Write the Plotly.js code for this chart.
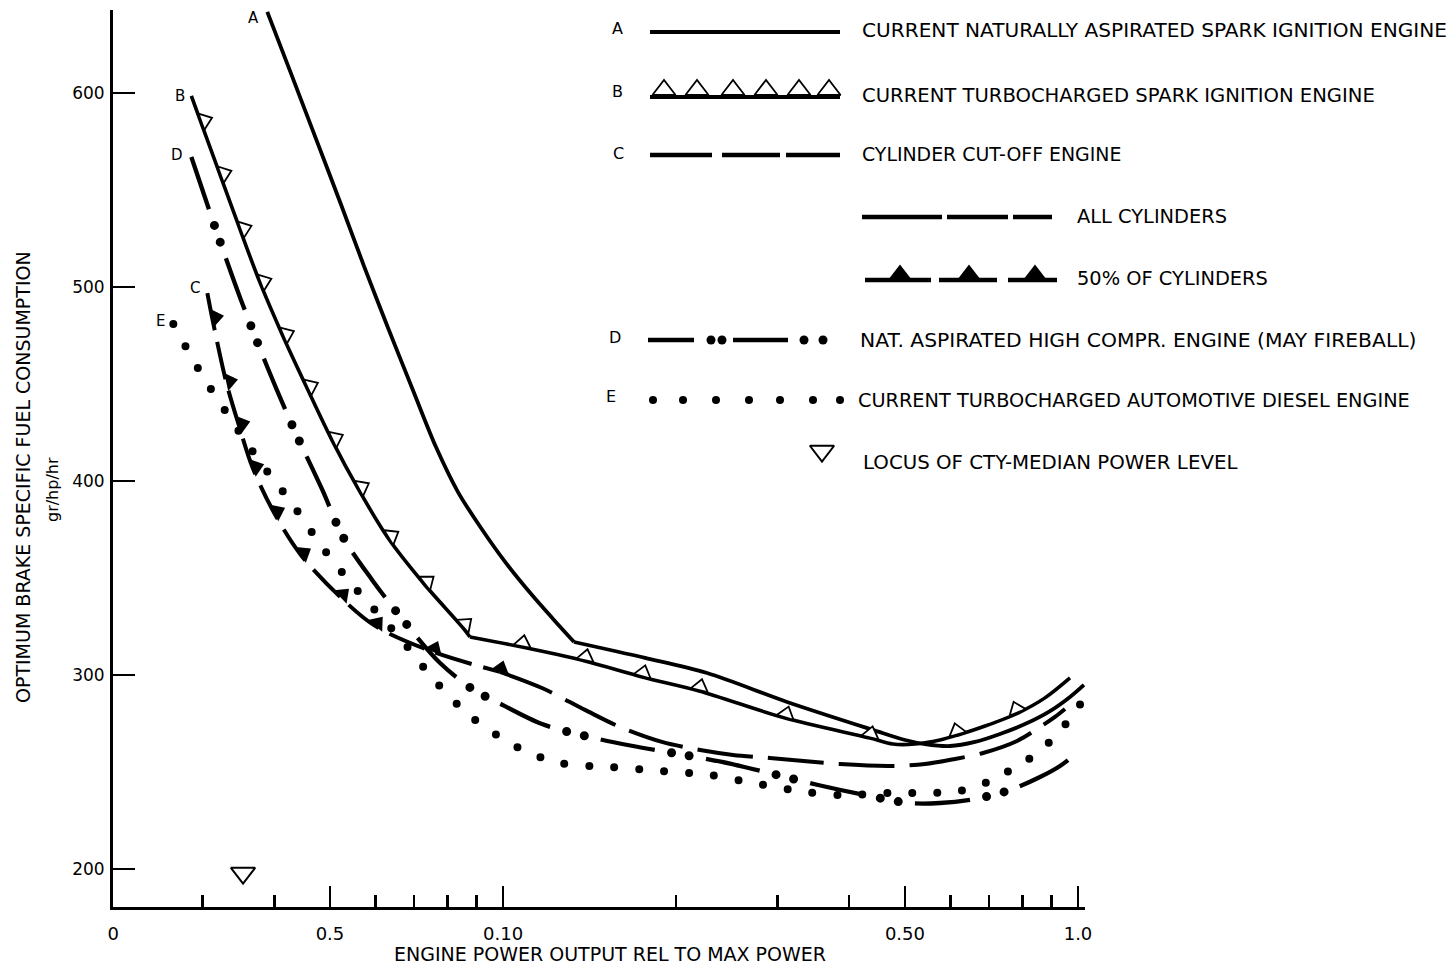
<!DOCTYPE html>
<html><head><meta charset="utf-8">
<script src="https://cdn.plot.ly/plotly-3.0.1.min.js"></script>
<style>html,body{margin:0;padding:0;background:#fff;}#chart{width:1452px;height:969px;}</style>
</head><body><div id="chart"></div>
<script>
// ---- data (x = engine power rel. to max, y = gr/hp/hr) ----
// A: current naturally aspirated spark ignition engine
const aX = [0.0389,0.0430,0.0475,0.0523,0.0573,0.0631,0.0698,0.07645,0.0835,0.09156,0.10121,0.11231,0.12218,0.1329,0.1766,0.2264,0.3119,0.4398,0.5002,0.5418,0.5989,0.6622,0.7318,0.8087,0.8939,0.9685,1.024];
const aY = [641.8,608.3,574.8,542.3,510.8,478.9,446.4,417.5,394.3,375.8,357.7,341.2,328.9,317.0,308.8,301.0,286.1,271.7,266.5,264.4,263.4,265.5,269.6,274.7,281.4,288.7,294.9];
const aKink = 13;   // index of the break in slope
// B: current turbocharged spark ignition engine (bTri = point carries a triangle)
const bX = [0.0287,0.0298,0.0322,0.0349,0.0378,0.0414,0.0456,0.0504,0.0560,0.0631,0.0729,0.0849,0.0876,0.1079,0.1388,0.1745,0.2193,0.3094,0.4345,0.4765,0.5205,0.5754,0.6184,0.6893,0.7865,0.8761,0.9685];
const bY = [598.5,585.1,557.8,529.4,502.1,474.8,448.0,421.1,395.9,370.6,346.9,324.8,319.6,314.4,307.2,299.0,291.8,277.8,267.5,264.4,264.4,266.5,269.1,273.7,280.4,288.2,298.5];
const bTri = [0,1,1,1,1,1,1,1,1,1,1,1,0,1,1,1,1,1,1,0,0,0,1,0,1,0,0];
const bKink = 12;
// C: cylinder cut-off engine, 50% of cylinders part
const c50X = [0.0306,0.0312,0.0330,0.0347,0.0367,0.0400,0.0445,0.0521,0.0599,0.0756,0.0988];
const c50Y = [496.9,484.0,451.0,428.9,406.7,383.5,361.9,340.2,325.3,311.9,301.6];
const c50Tri = [0,1,1,1,1,1,1,1,1,1,1];
// C: all cylinders part
const cAllX = [0.0988,0.1169,0.1388,0.1598,0.1890,0.2202,0.2512,0.2912,0.3855,0.4710,0.5418,0.6110,0.6838,0.7835,0.8589,0.9120,0.9493];
const cAllY = [301.6,293.3,282.0,273.2,265.5,261.3,258.8,257.2,254.1,253.1,254.1,256.7,259.8,266.0,273.2,278.4,282.5];
// D: nat. aspirated high compression engine (May fireball)
const dX = [0.0287,0.0319,0.0349,0.0389,0.0431,0.0485,0.0527,0.0592,0.0670,0.0777,0.0894,0.0961,0.1169,0.1416,0.1683,0.1976,0.2404,0.2948,0.3531,0.4345,0.5082,0.5754,0.6622,0.7618,0.8589,0.9305,1.0];
const dY = [567.0,526.8,494.4,458.8,427.9,395.4,371.1,349.0,328.4,306.2,291.8,287.1,274.7,268.0,263.4,259.8,255.2,249.0,243.3,237.6,234.0,234.0,236.1,240.7,247.4,253.1,260.3];
// E: current turbocharged automotive diesel engine
const eX = [0.0267,0.0296,0.0335,0.0378,0.0430,0.0486,0.0553,0.0673,0.0759,0.0880,0.1058,0.1256,0.1541,0.1890,0.2283,0.2722,0.3271,0.3855,0.4689,0.5639,0.6233,0.6893,0.7466,0.8087,0.8693,0.9230,0.9723,1.020];
const eY = [480.9,457.2,432.5,409.8,388.2,365.5,344.9,316.5,297.4,278.4,262.9,254.6,252.6,250.5,248.5,244.3,240.2,238.1,239.2,239.2,240.2,244.3,249.5,255.2,262.9,269.1,278.9,286.6];
// Locus of CTY-median power level
const locusX = [0.0353];
const locusY = [197.9];

// ticks and labels
const xTickVals = [0.02098,0.05,0.1,0.5,1.0];
const xTickText = ['0','0.5','0.10','0.50','1.0'];
const xMinorVals = [0.03,0.04,0.06,0.07,0.08,0.09,0.2,0.3,0.4,0.6,0.7,0.8,0.9];
const yTickVals = [200,300,400,500,600];
const curveKeys = ['A','B','C','D','E'];
const legendKeys = ['A','B','C','D','E'];
const legendLabels = ['CURRENT NATURALLY ASPIRATED SPARK IGNITION ENGINE','CURRENT TURBOCHARGED SPARK IGNITION ENGINE','CYLINDER CUT-OFF ENGINE','ALL CYLINDERS','50% OF CYLINDERS','NAT. ASPIRATED HIGH COMPR. ENGINE (MAY FIREBALL)','CURRENT TURBOCHARGED AUTOMOTIVE DIESEL ENGINE','LOCUS OF CTY-MEDIAN POWER LEVEL'];
const xTitle = 'ENGINE POWER OUTPUT REL TO MAX POWER';
const yTitle = 'OPTIMUM BRAKE SPECIFIC FUEL CONSUMPTION';
const yUnit = 'gr/hp/hr';

// ---- layout constants (pixels) ----
const W = 1452, H = 969, PL = 113, PR = 1085, PT = 10, PB = 907;
const FONT = 'DejaVu Sans, sans-serif';
const K = '#000';

const main = {xaxis:'x', yaxis:'y', hoverinfo:'skip', cliponaxis:false};
const leg = {xaxis:'x2', yaxis:'y2', hoverinfo:'skip', cliponaxis:false};
const spl = {shape:'spline', smoothing:0.9, simplify:false};

const data = [
  Object.assign({x:aX.slice(0, aKink + 1), y:aY.slice(0, aKink + 1), mode:'lines', line:Object.assign({color:K, width:3.8}, spl)}, main),
  Object.assign({x:aX.slice(aKink), y:aY.slice(aKink), mode:'lines', line:Object.assign({color:K, width:3.8}, spl)}, main),
  Object.assign({x:bX.slice(0, bKink + 1), y:bY.slice(0, bKink + 1), mode:'lines', line:Object.assign({color:K, width:3.6}, spl)}, main),
  Object.assign({x:bX.slice(bKink), y:bY.slice(bKink), mode:'lines', line:Object.assign({color:K, width:3.6}, spl)}, main),
  Object.assign({x:bX, y:bY, mode:'markers', marker:{symbol:'triangle-down', size:15, color:'#fff',
      line:{color:K, width:1.8}, angleref:'previous', angle:90, standoff:4.5, opacity:bTri}}, main),
  Object.assign({x:c50X, y:c50Y, mode:'lines', line:Object.assign({color:K, width:4, dash:'38px,12px'}, spl)}, main),
  Object.assign({x:c50X, y:c50Y, mode:'markers', marker:{symbol:'triangle-down', size:16, color:K,
      line:{width:0}, angleref:'previous', angle:90, standoff:4, opacity:c50Tri}}, main),
  Object.assign({x:cAllX, y:cAllY, mode:'lines', line:Object.assign({color:K, width:4, dash:'56px,15px'}, spl)}, main),
  Object.assign({x:dX, y:dY, mode:'lines', uid:'Ddash', line:Object.assign({color:K, width:4.3, dash:'55px,52px'}, spl)}, main),
  Object.assign({x:dX, y:dY, mode:'lines', uid:'Ddots', line:Object.assign({color:K, width:9, dash:'0px,18px,0px,89px'}, spl)}, main),
  Object.assign({x:eX, y:eY, mode:'lines', uid:'Edots', line:Object.assign({color:K, width:8, dash:'0px,25px'}, spl)}, main),
  Object.assign({x:locusX, y:locusY, mode:'markers', marker:{symbol:'triangle-down-open', size:21, color:K, line:{width:2, color:K}}}, main),

  // ---- legend samples (overlay axes in figure pixels) ----
  Object.assign({x:[650,840], y:[32,32], mode:'lines', line:{color:K, width:4}}, leg),
  Object.assign({x:[650,840], y:[97,97], mode:'lines', line:{color:K, width:4}}, leg),
  Object.assign({x:[664,697,733,766,799,829], y:[90,90,90,90,90,90], mode:'markers',
      marker:{symbol:'triangle-up', size:20, color:'#fff', line:{color:K, width:1.8}}}, leg),
  Object.assign({x:[650,712,null,722,780,null,786,840], y:[155,155,null,155,155,null,155,155], mode:'lines', line:{color:K, width:4.5}}, leg),
  Object.assign({x:[862,942,null,947,1008,null,1013,1052], y:[217,217,null,217,217,null,217,217], mode:'lines', line:{color:K, width:4.5}}, leg),
  Object.assign({x:[865,931,null,939,997,null,1008,1057], y:[280,280,null,280,280,null,280,280], mode:'lines', line:{color:K, width:4.5}}, leg),
  Object.assign({x:[900,969,1035], y:[274,274,274], mode:'markers', marker:{symbol:'triangle-up', size:19, color:K, line:{width:0}}}, leg),
  Object.assign({x:[648,694,null,733,788], y:[340,340,null,340,340], mode:'lines', line:{color:K, width:4.5}}, leg),
  Object.assign({x:[711,722,804,823], y:[340,340,340,340], mode:'markers', marker:{symbol:'circle', size:9, color:K}}, leg),
  Object.assign({x:[653,683,716,749,780,813,840], y:[400,400,400,400,400,400,400], mode:'markers', marker:{symbol:'circle', size:8, color:K}}, leg),
  Object.assign({x:[822], y:[451], mode:'markers', marker:{symbol:'triangle-down-open', size:21, color:K, line:{width:2, color:K}}}, leg)
];

const ann = [];
function txt(x, y, text, size, extra) {
  ann.push(Object.assign({xref:'x2', yref:'y2', x:x, y:y, text:text, showarrow:false,
    font:{family:FONT, size:size, color:K}, xanchor:'left', yanchor:'middle'}, extra || {}));
}
// legend key letters
const keyPos = [[617,28],[617,91],[618,153],[615,337],[611,396]];
legendKeys.forEach((k, i) => txt(keyPos[i][0], keyPos[i][1], k, 16, {xanchor:'center'}));
// legend labels
const labPos = [[860,30],[860,95],[860,154],[1075,216],[1075,278],[858,340],[856,400],[861,462]];
const labSize = [20.1,19.6,18.9,19.4,19.4,20.3,19.3,19.8];
legendLabels.forEach((t, i) => txt(labPos[i][0], labPos[i][1], t, labSize[i]));
// axis titles
txt(610, 954, xTitle, 19, {xanchor:'center'});
txt(23, 477, yTitle, 19, {xanchor:'center', textangle:-90});
txt(52, 490, yUnit, 16, {xanchor:'center', textangle:-90});
// curve letters at the start of each curve
const curveStarts = [[aX[0], aY[0], -14, -6], [bX[0], bY[0], -11, 0], [c50X[0], c50Y[0], -12, 5], [dX[0], dY[0], -14, 2], [eX[0], eY[0], -13, 3]];
curveKeys.forEach((k, i) => {
  const s = curveStarts[i];
  ann.push({xref:'x', yref:'y', x:Math.log10(s[0]), y:s[1], text:k, showarrow:false, xshift:s[2], yshift:s[3],
    font:{family:FONT, size:15, color:K}, xanchor:'center', yanchor:'middle'});
});

const layout = {
  width:W, height:H, margin:{l:0, r:0, t:0, b:0, pad:0},
  paper_bgcolor:'#fff', plot_bgcolor:'rgba(0,0,0,0)', showlegend:false, hovermode:false,
  xaxis:{type:'log', domain:[PL/W, PR/W], range:[-1.6784, 0.0122], anchor:'y',
    showline:true, linewidth:3, linecolor:K, showgrid:false, zeroline:false,
    ticks:'inside', ticklen:21, tickwidth:2.5, tickcolor:K,
    tickmode:'array', tickvals:xTickVals, ticktext:xTickText, ticklabelstandoff:8,
    tickfont:{family:FONT, size:18, color:K},
    minor:{tickmode:'array', tickvals:xMinorVals, ticks:'inside', ticklen:12, tickwidth:2.5, tickcolor:K, showgrid:false},
    fixedrange:true, automargin:false},
  yaxis:{domain:[(H-PB)/H, (H-PT)/H], range:[180.4, 642.8], anchor:'x',
    showline:true, linewidth:3, linecolor:K, showgrid:false, zeroline:false,
    ticks:'inside', ticklen:22, tickwidth:2.5, tickcolor:K,
    tickmode:'array', tickvals:yTickVals, ticklabelstandoff:2,
    tickfont:{family:FONT, size:17, color:K}, fixedrange:true, automargin:false},
  xaxis2:{domain:[0,1], range:[0,W], visible:false, anchor:'y2', fixedrange:true},
  yaxis2:{domain:[0,1], range:[H,0], visible:false, anchor:'x2', fixedrange:true},
  annotations:ann
};

const gd = document.getElementById('chart');
Plotly.newPlot(gd, data, layout, {staticPlot:true, displayModeBar:false}).then(function () {
  ['Ddots','Edots'].forEach(function (u) {
    gd.querySelectorAll('.trace' + u + ' path.js-line').forEach(function (p) {
      p.style.strokeLinecap = 'round';
      if (u === 'Ddots') p.style.strokeDashoffset = '-72px';
    });
  });
});
</script>
</body></html>
